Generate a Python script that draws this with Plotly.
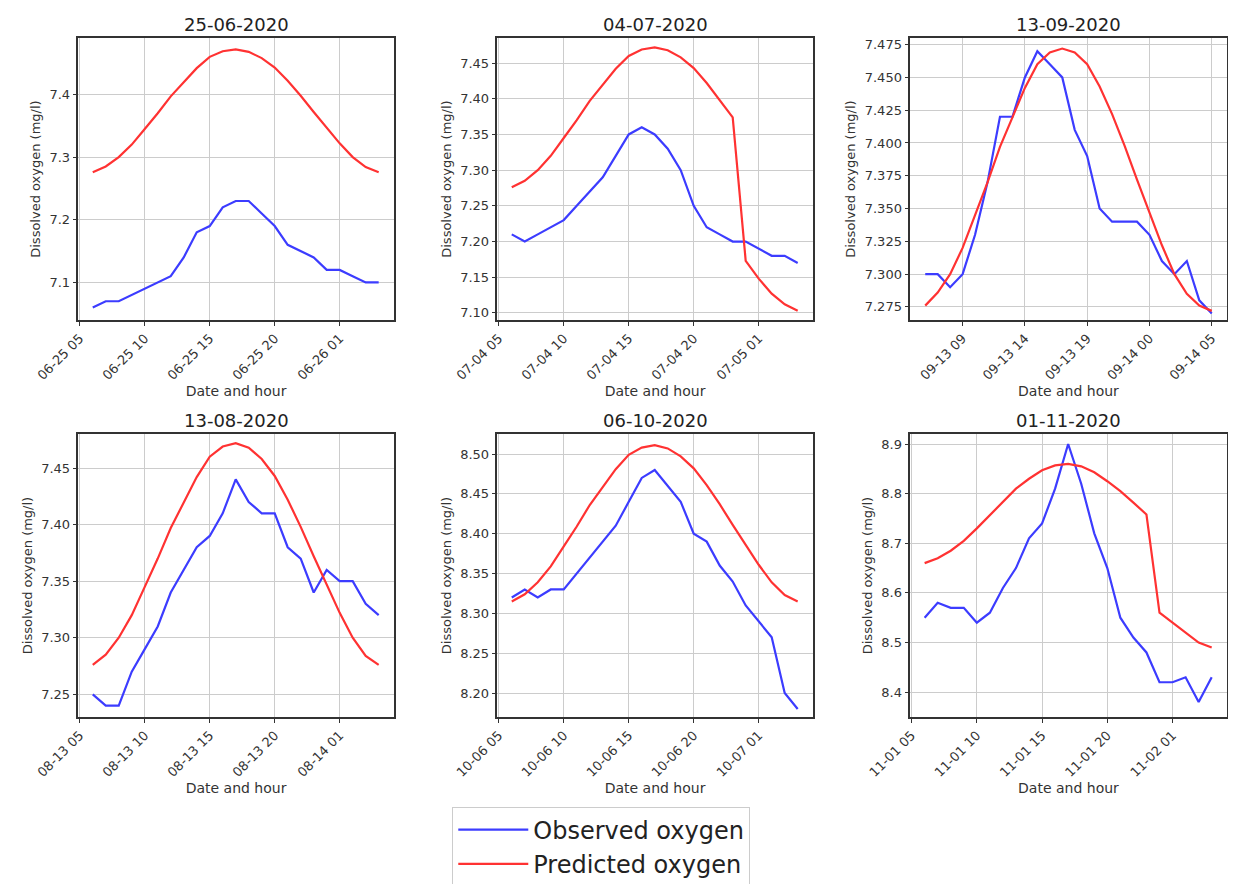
import pandas as pd
import plotly.graph_objects as go

# Panel titles, start hour of each day's series, and tick labels
titles = ["25-06-2020", "04-07-2020", "13-09-2020", "13-08-2020", "06-10-2020", "01-11-2020"]
start_times = ["2020-06-25 06:00", "2020-07-04 06:00", "2020-09-13 06:00",
               "2020-08-13 06:00", "2020-10-06 06:00", "2020-11-01 06:00"]
tick_times = [
    ["2020-06-25 05:00", "2020-06-25 10:00", "2020-06-25 15:00", "2020-06-25 20:00", "2020-06-26 01:00"],
    ["2020-07-04 05:00", "2020-07-04 10:00", "2020-07-04 15:00", "2020-07-04 20:00", "2020-07-05 01:00"],
    ["2020-09-13 09:00", "2020-09-13 14:00", "2020-09-13 19:00", "2020-09-14 00:00", "2020-09-14 05:00"],
    ["2020-08-13 05:00", "2020-08-13 10:00", "2020-08-13 15:00", "2020-08-13 20:00", "2020-08-14 01:00"],
    ["2020-10-06 05:00", "2020-10-06 10:00", "2020-10-06 15:00", "2020-10-06 20:00", "2020-10-07 01:00"],
    ["2020-11-01 05:00", "2020-11-01 10:00", "2020-11-01 15:00", "2020-11-01 20:00", "2020-11-02 01:00"],
]

observed_0625 = [7.06, 7.07, 7.07, 7.08, 7.09, 7.10, 7.11, 7.14, 7.18, 7.19, 7.22, 7.23,
                 7.23, 7.21, 7.19, 7.16, 7.15, 7.14, 7.12, 7.12, 7.11, 7.10, 7.10]
predicted_0625 = [7.276, 7.285, 7.300, 7.320, 7.345, 7.370, 7.397, 7.420, 7.442, 7.460, 7.469, 7.472,
                  7.468, 7.458, 7.443, 7.422, 7.398, 7.372, 7.347, 7.322, 7.300, 7.284, 7.276]

observed_0704 = [7.21, 7.20, 7.21, 7.22, 7.23, 7.25, 7.27, 7.29, 7.32, 7.35, 7.36, 7.35,
                 7.33, 7.30, 7.25, 7.22, 7.21, 7.20, 7.20, 7.19, 7.18, 7.18, 7.17]
predicted_0704 = [7.276, 7.285, 7.300, 7.320, 7.345, 7.370, 7.397, 7.420, 7.442, 7.460, 7.469, 7.472,
                  7.468, 7.458, 7.443, 7.422, 7.398, 7.374, 7.173, 7.148, 7.127, 7.112, 7.103]

observed_0913 = [7.30, 7.30, 7.29, 7.30, 7.33, 7.37, 7.42, 7.42, 7.45, 7.47, 7.46, 7.45,
                 7.41, 7.39, 7.35, 7.34, 7.34, 7.34, 7.33, 7.31, 7.30, 7.31, 7.28, 7.27]
predicted_0913 = [7.276, 7.286, 7.300, 7.320, 7.345, 7.370, 7.397, 7.420, 7.442, 7.460, 7.469, 7.472,
                  7.469, 7.460, 7.443, 7.422, 7.398, 7.372, 7.347, 7.322, 7.300, 7.285, 7.276, 7.272]

observed_0813 = [7.25, 7.24, 7.24, 7.27, 7.29, 7.31, 7.34, 7.36, 7.38, 7.39, 7.41, 7.44,
                 7.42, 7.41, 7.41, 7.38, 7.37, 7.34, 7.36, 7.35, 7.35, 7.33, 7.32]
predicted_0813 = [7.276, 7.285, 7.300, 7.320, 7.345, 7.370, 7.397, 7.420, 7.442, 7.460, 7.469, 7.472,
                  7.468, 7.458, 7.443, 7.422, 7.398, 7.372, 7.347, 7.322, 7.300, 7.284, 7.276]

observed_1006 = [8.32, 8.33, 8.32, 8.33, 8.33, 8.35, 8.37, 8.39, 8.41, 8.44, 8.47, 8.48,
                 8.46, 8.44, 8.40, 8.39, 8.36, 8.34, 8.31, 8.29, 8.27, 8.20, 8.18]
predicted_1006 = [8.315, 8.324, 8.339, 8.359, 8.384, 8.409, 8.436, 8.459, 8.481, 8.499, 8.508, 8.511,
                  8.507, 8.497, 8.482, 8.461, 8.437, 8.411, 8.386, 8.361, 8.339, 8.323, 8.315]

observed_1101 = [8.55, 8.58, 8.57, 8.57, 8.54, 8.56, 8.61, 8.65, 8.71, 8.74, 8.81, 8.90,
                 8.82, 8.72, 8.65, 8.55, 8.51, 8.48, 8.42, 8.42, 8.43, 8.38, 8.43]
predicted_1101 = [8.660, 8.670, 8.685, 8.705, 8.730, 8.757, 8.785, 8.810, 8.830, 8.847, 8.857, 8.860,
                  8.855, 8.843, 8.825, 8.805, 8.782, 8.758, 8.560, 8.540, 8.520, 8.500, 8.490]

observed = [observed_0625, observed_0704, observed_0913, observed_0813, observed_1006, observed_1101]
predicted = [predicted_0625, predicted_0704, predicted_0913, predicted_0813, predicted_1006, predicted_1101]

y_ranges = [[7.04, 7.49], [7.09, 7.485], [7.265, 7.480], [7.23, 7.48], [8.17, 8.525], [8.35, 8.92]]
y_dticks = [0.1, 0.05, 0.025, 0.05, 0.05, 0.1]
y_formats = [".1f", ".2f", ".3f", ".2f", ".2f", ".1f"]

x_domains = [[0.057, 0.312], [0.396, 0.651], [0.730, 0.986]]
y_domains = [[0.647, 0.966], [0.198, 0.518]]

FONT = "DejaVu Sans"
fig = go.Figure()

for i in range(6):
    n = "" if i == 0 else str(i + 1)
    times = pd.date_range(start_times[i], periods=len(observed[i]), freq="h")
    fig.add_trace(go.Scatter(x=times, y=observed[i], mode="lines", name="Observed oxygen",
                             line=dict(color="rgb(60,60,255)", width=2.2),
                             showlegend=(i == 0), xaxis="x" + n, yaxis="y" + n))
    fig.add_trace(go.Scatter(x=times, y=predicted[i], mode="lines", name="Predicted oxygen",
                             line=dict(color="rgb(255,50,50)", width=2.2),
                             showlegend=(i == 0), xaxis="x" + n, yaxis="y" + n))
    ticks = pd.to_datetime(tick_times[i])
    axis_common = dict(showline=True, linecolor="#333", linewidth=1.5, mirror=True,
                       showgrid=True, gridcolor="#cccccc", ticks="outside", ticklen=4,
                       tickcolor="#333", zeroline=False, automargin=False,
                       tickfont=dict(family=FONT, size=13, color="#333"))
    fig.layout["xaxis" + n] = dict(
        domain=x_domains[i % 3], anchor="y" + n,
        tickvals=list(ticks), ticktext=[t.strftime("%m-%d %H") for t in ticks],
        tickangle=-45,
        range=[times[0] - pd.Timedelta(hours=1.1), times[-1] + pd.Timedelta(hours=1.15)]
        if i != 2 else [times[0] - pd.Timedelta(hours=1.2), times[-1] + pd.Timedelta(hours=1.2)],
        title=dict(text="Date and hour", font=dict(family=FONT, size=14, color="#333"), standoff=4),
        **axis_common)
    fig.layout["yaxis" + n] = dict(
        domain=y_domains[i // 3], anchor="x" + n, range=y_ranges[i],
        dtick=y_dticks[i], tick0=0, tickformat=y_formats[i],
        title=dict(text="Dissolved oxygen (mg/l)", font=dict(family=FONT, size=13, color="#333"), standoff=6),
        **axis_common)
    xd = x_domains[i % 3]
    fig.add_annotation(x=(xd[0] + xd[1]) / 2, y=y_domains[i // 3][1], xref="paper", yref="paper",
                       text=titles[i], showarrow=False, xanchor="center", yanchor="bottom", yshift=1,
                       font=dict(family=FONT, size=18, color="#222"))

fig.update_layout(
    width=1236, height=884,
    margin=dict(l=0, r=0, t=0, b=0),
    paper_bgcolor="white", plot_bgcolor="white",
    legend=dict(x=0.48, y=0.005, xanchor="center", yanchor="bottom",
                bordercolor="#ccc", borderwidth=1,
                font=dict(family=FONT, size=24, color="#222"), itemwidth=70),
)

fig.write_html("out.html")
